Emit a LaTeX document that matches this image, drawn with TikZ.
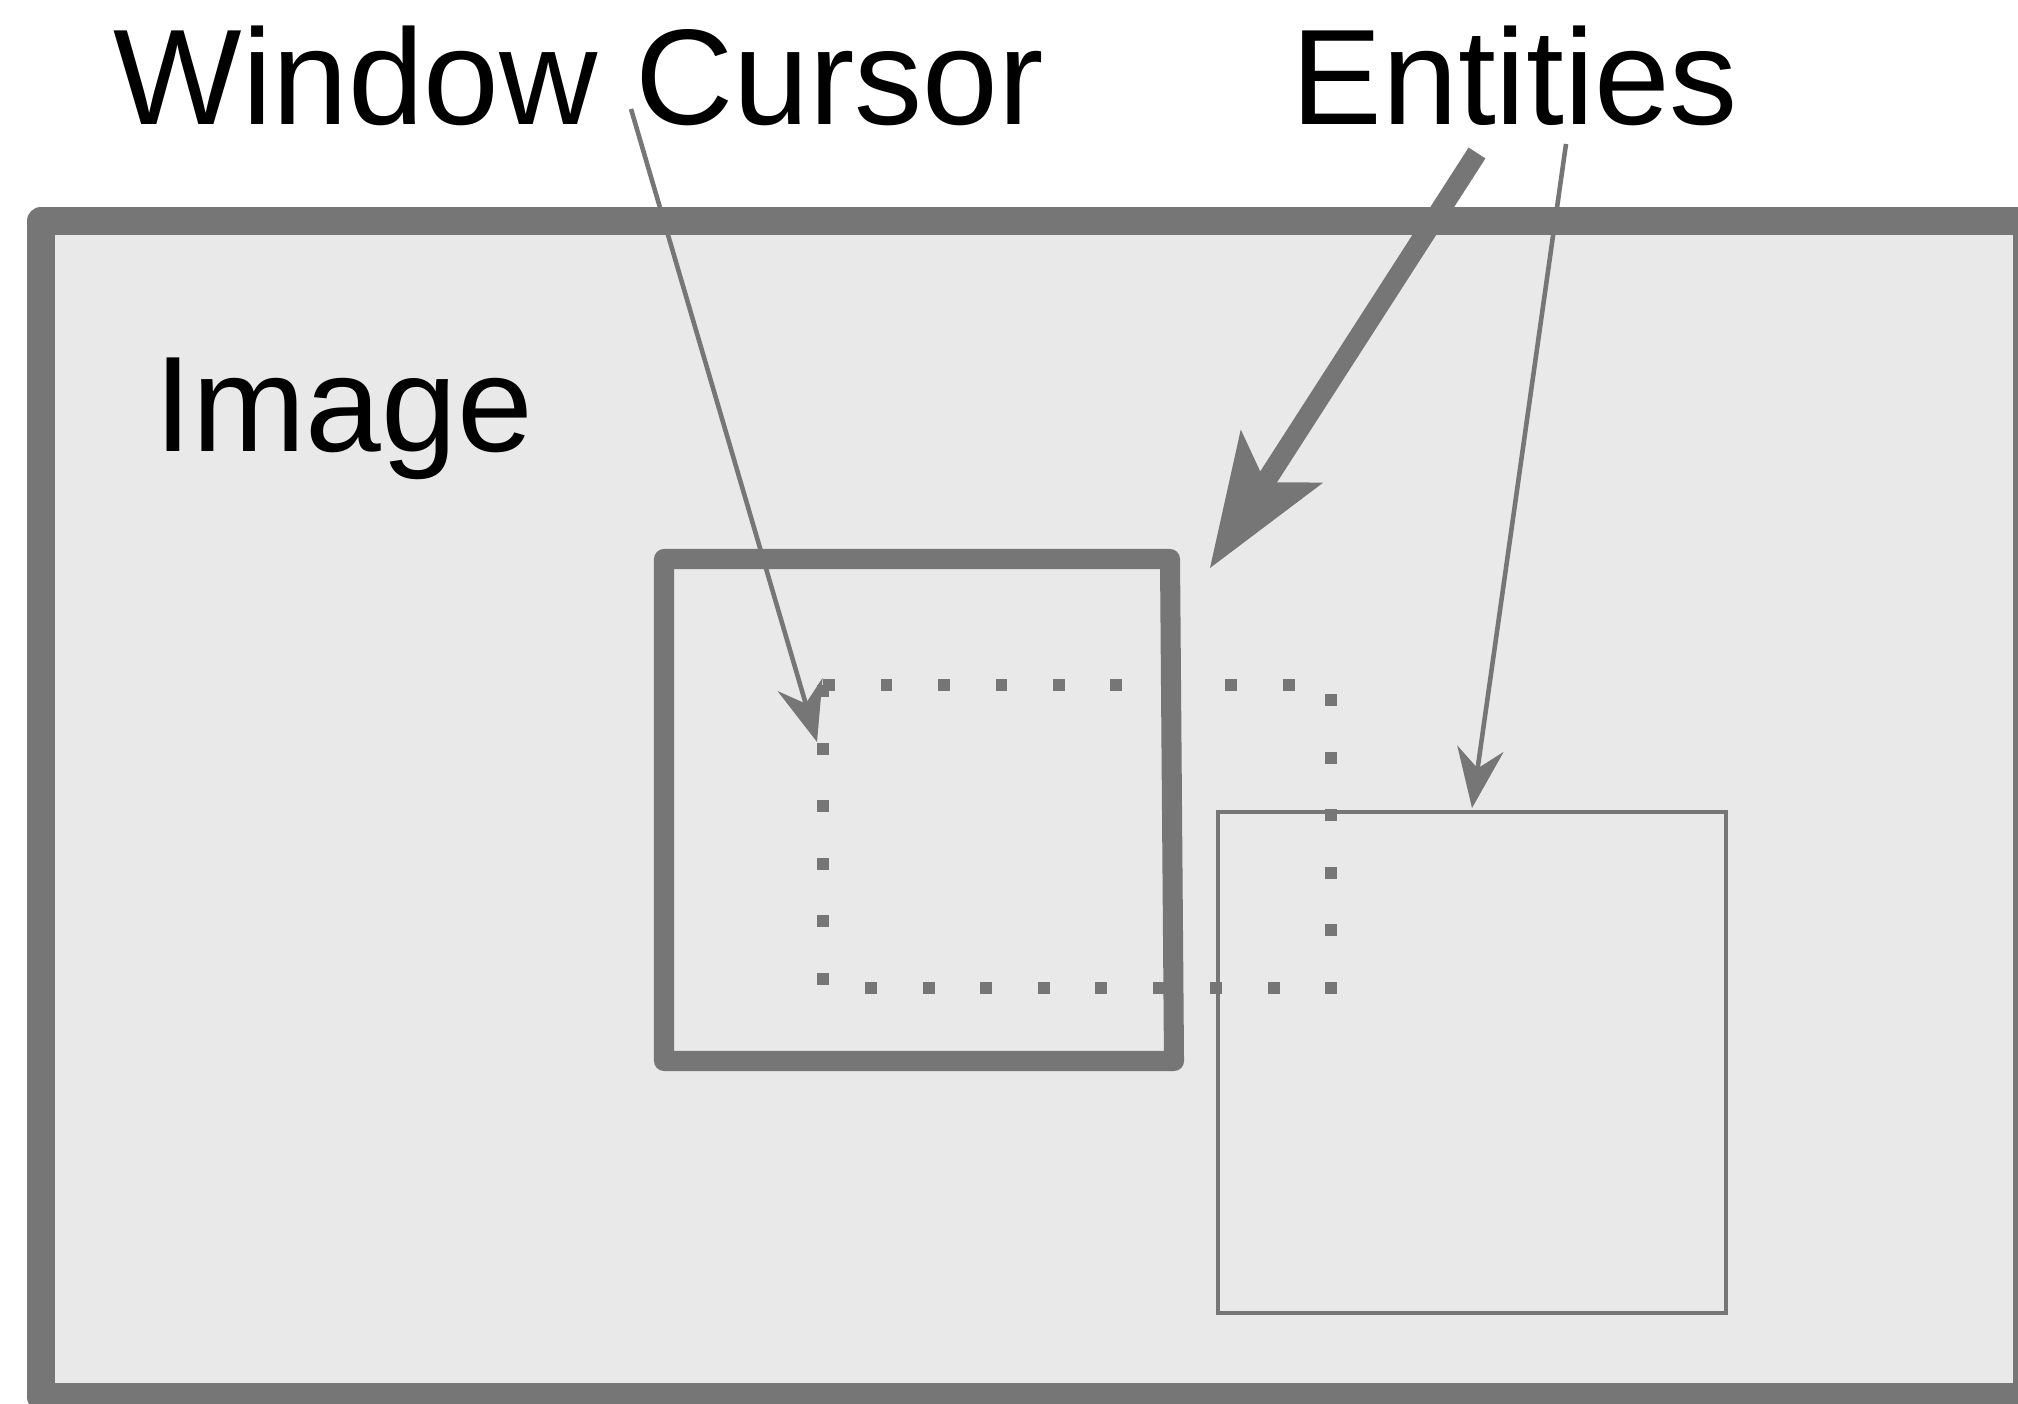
\documentclass[tikz,border=0pt]{standalone}
\usepackage{fontspec}
\setmainfont{Liberation Sans}
\usetikzlibrary{arrows.meta}
\definecolor{edgegray}{RGB}{118,118,118}
\definecolor{fillgray}{RGB}{233,233,233}
\tikzset{
  lbl/.style={anchor=base west, inner sep=0pt, font=\fontsize{38.7pt}{46pt}\selectfont, text=black},
  framebox/.style={draw=edgegray, fill=fillgray, line width=7.97pt, line join=round},
  cursorbox/.style={draw=edgegray, line width=3.4pt, dash pattern=on 3.4pt off 12.95pt},
  windowbox/.style={draw=edgegray, line width=5.7pt, line join=round},
  entitybox/.style={draw=edgegray, line width=1.4pt},
  thinarrow/.style={draw=edgegray, line width=1.3pt, -{Stealth[length=0.6cm, width=0.47cm, inset=0.2cm, line width=0pt]}},
  thickarrow/.style={draw=edgegray, line width=5.7pt, -{Stealth[length=1.33cm, width=0.98cm, inset=0.31cm, line width=0pt]}}
}
\begin{document}
\begin{tikzpicture}[x=0.01cm, y=-0.01cm]
  \useasboundingbox (0,0) rectangle (2018,1404);
  \clip (0,0) rectangle (2018,1404);
  % image frame
  \draw[framebox] (41,221) rectangle (2027,1397);
  % dotted window cursor
  \draw[cursorbox] (823,685) -- (1331,685) -- (1331,988) -- (823,988) -- cycle;
  % window (thick box)
  \draw[windowbox] (664,559) -- (1170,559) -- (1174,1061) -- (664,1061) -- cycle;
  % entity box
  \draw[entitybox] (1218,812) rectangle (1726,1313);
  % labels
  \node[lbl] (wc) at (113,125) {Window Cursor};
  \node[lbl] (ent) at (1291,125) {Entities};
  \node[lbl] (img) at (154,452) {Image};
  % connector coordinates
  \coordinate (wcstart) at (631,109);
  \coordinate (wctip) at (817,742);
  \coordinate (e1start) at (1477,153);
  \coordinate (e1tip) at (1210,568);
  \coordinate (e2start) at (1566,144);
  \coordinate (e2tip) at (1472,808);
  \draw[thinarrow] (wcstart) -- (wctip);
  \draw[thickarrow] (e1start) -- (e1tip);
  \draw[thinarrow] (e2start) -- (e2tip);
\end{tikzpicture}
\end{document}
